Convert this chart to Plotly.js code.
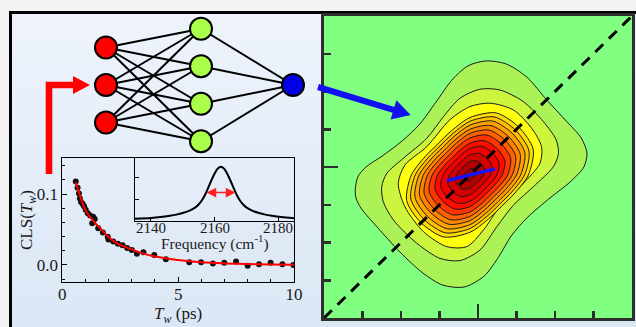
<!DOCTYPE html>
<html><head><meta charset="utf-8">
<script src="https://cdn.plot.ly/plotly-3.0.1.min.js"></script>
<style>
html,body{margin:0;padding:0;background:#f3f3f3;overflow:hidden;width:636px;height:327px;}
#frame{position:absolute;left:9px;top:11px;width:700px;height:313px;border-left:3px solid #000;border-top:3px solid #000;background:linear-gradient(180deg,#eef3fb 0%,#dbe7f5 100%);}
#chart{position:absolute;left:0;top:0;width:636px;height:327px;}
</style></head><body>
<div id="frame"></div><div id="chart"></div>
<script>
// ---------- data ----------
const clsT = [0.58,0.66,0.72,0.76,0.81,0.88,0.94,1.01,1.10,1.20,1.29,1.33,1.40,1.55,1.75,1.96,1.99,2.20,2.40,2.60,2.80,3.00,3.22,3.50,3.97,4.47,5.48,5.99,6.50,6.99,7.50,8.00,8.49,8.99,9.50,9.97];
const clsV = [0.118,0.109,0.101,0.094,0.089,0.086,0.083,0.078,0.073,0.070,0.059,0.068,0.065,0.052,0.046,0.040,0.036,0.033,0.030,0.028,0.024,0.021,0.016,0.018,0.014,0.008,0.004,0.004,0.002,0.003,0.005,-0.001,0.001,0.003,0.001,0.000];
const fitT = [0.58,0.7,0.8,0.9,1.0,1.1,1.25,1.4,1.6,1.8,2.0,2.3,2.6,3.0,3.5,4.0,4.5,5.0,6.0,7.0,8.0,9.0,10.0];
const fitV = [0.117,0.105,0.094,0.085,0.078,0.072,0.066,0.060,0.053,0.046,0.039,0.032,0.027,0.022,0.016,0.012,0.0094,0.007,0.0038,0.0022,0.0013,0.0008,0.0005];
const freq = [2135,2140,2143,2146,2148,2150,2152,2154,2155,2156,2157,2158,2159,2160,2161,2162,2163,2164,2165,2166,2167,2168,2169,2170,2172,2174,2176,2178,2181,2185];
const absV = [0.10,0.14,0.18,0.24,0.29,0.36,0.46,0.62,0.75,0.93,1.18,1.50,1.84,2.15,2.38,2.47,2.38,2.15,1.84,1.50,1.18,0.93,0.75,0.62,0.46,0.36,0.29,0.24,0.18,0.13];
const fwhmX = [2157.0, 2166.6];
const fwhmY = [1.29, 1.29];
const freqTicks = [2140, 2160, 2180];

// 2D spectrum: outer contours traced, inner contours given by radius + shape
const c1x=[0.81,0.88,1.09,1.51,2.03,2.49,2.91,3.32,3.74,4.21,4.73,5.27,5.79,6.29,6.68,6.83,6.75,6.39,5.87,5.27,4.86,4.55,4.16,3.64,3.09,2.57,1.97,1.38,0.96,0.83];
const c1y=[3.39,3.74,4.00,4.29,4.69,5.14,5.72,6.30,6.68,6.81,6.73,6.38,5.77,5.22,4.77,4.37,4.00,3.60,3.18,2.65,2.17,1.64,1.11,0.82,0.87,1.19,1.75,2.41,2.91,3.18];
const c2x=[1.50,1.63,2.06,2.67,3.10,3.53,4.05,4.57,5.18,5.70,6.03,6.09,5.96,5.44,4.92,4.49,4.05,3.53,3.01,2.41,1.80,1.54];
const c2y=[3.48,3.83,4.23,4.76,5.33,5.82,6.06,6.04,5.73,5.20,4.72,4.36,4.01,3.48,2.99,2.42,1.80,1.52,1.58,1.98,2.60,3.08];
const c3x=[1.93,2.10,2.67,3.27,3.79,4.31,4.92,5.39,5.65,5.61,5.18,4.57,4.14,3.71,3.19,2.58,2.10];
const c3y=[3.57,4.05,4.54,5.25,5.60,5.69,5.51,5.03,4.54,4.10,3.57,2.95,2.33,1.89,1.89,2.29,2.95];
const peakCenter = [3.79, 3.79];
const innerRadii = [1.52,1.42,1.32,1.21,1.10,0.98,0.84,0.70,0.53,0.35,0.15];
// radial shape of the inner contours, every 22.5 deg starting at +x, counter-clockwise
const innerShape = [1.0,1.17,1.18,1.17,1.0,0.83,0.77,0.83,1.0,1.17,1.18,1.17,1.0,0.83,0.77,0.83];
const levelColors = ['#abf257','#cdf53e','#ffff10','#ffdc00','#ffc000','#ffa000','#ff8400','#ff6000','#ff3400','#ff0c00','#f00000','#d20000','#b40000','#9a0000'];
const diagX = [0, 8], diagY = [0, 8];
const cslX = [3.19, 4.44], cslY = [3.64, 3.95];
const layerSizes = [3, 4, 1];
const layerColors = ['#ff0000', '#aaff48', '#0000e6'];

// ---------- geometry ----------
const W = 636, H = 327;
const hx = (a, b) => [a / W, b / W];
const vy = (top, bot) => [1 - bot / H, 1 - top / H];
const FONT = '"Liberation Serif", "Times New Roman", serif';
const nnX = [106, 201, 293], nnCY = 85, nnGap = 37.5;

const traces = [];
traces.push({x: clsT, y: clsV, xaxis: 'x', yaxis: 'y', mode: 'markers', type: 'scatter',
  marker: {color: '#111', size: 6}});
traces.push({x: fitT, y: fitV, xaxis: 'x', yaxis: 'y', mode: 'lines', type: 'scatter',
  line: {color: '#ff0000', width: 2, shape: 'spline', smoothing: 0.8}});
traces.push({x: freq, y: absV, xaxis: 'x2', yaxis: 'y2', mode: 'lines', type: 'scatter',
  line: {color: '#000', width: 2, shape: 'spline', smoothing: 0.8}});

// contours (start each closed path mid-edge to avoid a kink at the join)
function closed(xs, ys, s) {
  const X = xs.slice(s).concat(xs.slice(0, s)), Y = ys.slice(s).concat(ys.slice(0, s));
  return {x: X.concat([X[0]]), y: Y.concat([Y[0]])};
}
const polys = [closed(c1x, c1y, 4), closed(c2x, c2y, 3), closed(c3x, c3y, 2)];
innerRadii.forEach(r => {
  const xs = [], ys = [];
  innerShape.forEach((k, i) => {
    const a = i * Math.PI / 8;
    xs.push(peakCenter[0] + Math.cos(a) * r * k); ys.push(peakCenter[1] + Math.sin(a) * r * k);
  });
  polys.push(closed(xs, ys, 6));
});
polys.forEach((p, i) => {
  traces.push({x: p.x, y: p.y, xaxis: 'x3', yaxis: 'y3', type: 'scatter', mode: 'lines', fill: 'toself',
    fillcolor: levelColors[i], line: {color: '#1a1a1a', width: 1, shape: 'spline', smoothing: 0.8}});
});
traces.push({x: diagX, y: diagY, xaxis: 'x3', yaxis: 'y3', type: 'scatter', mode: 'lines',
  line: {color: '#000', width: 3, dash: '11px,8px'}});
traces.push({x: cslX, y: cslY, xaxis: 'x3', yaxis: 'y3', type: 'scatter', mode: 'lines',
  line: {color: '#1414ff', width: 3.5}});

// network
const nodes = layerSizes.map((n, li) => Array.from({length: n}, (_, k) => [nnX[li], nnCY + (k - (n - 1) / 2) * nnGap]));
const ex = [], ey = [];
for (let li = 0; li < nodes.length - 1; li++)
  nodes[li].forEach(a => nodes[li + 1].forEach(b => { ex.push(a[0], b[0], null); ey.push(a[1], b[1], null); }));
traces.push({x: ex, y: ey, xaxis: 'x4', yaxis: 'y4', type: 'scatter', mode: 'lines', line: {color: '#000', width: 2}});
const nx = [], ny = [], nc = [];
nodes.forEach((layer, li) => layer.forEach(p => { nx.push(p[0]); ny.push(p[1]); nc.push(layerColors[li]); }));
traces.push({x: nx, y: ny, xaxis: 'x4', yaxis: 'y4', type: 'scatter', mode: 'markers',
  marker: {size: 22, color: nc, line: {color: '#000', width: 2}}});

const tf = (s) => ({family: FONT, size: s, color: '#1a1a1a'});
const annotations = [
  {xref: 'x2', yref: 'y2', axref: 'x2', ayref: 'y2', x: fwhmX[1], y: fwhmY[1], ax: fwhmX[0], ay: fwhmY[0], text: '',
    showarrow: true, arrowhead: 2, arrowside: 'end+start', arrowsize: 1.3, arrowwidth: 1.5, arrowcolor: '#ff2020',
    standoff: 0, startstandoff: 0},
  {xref: 'paper', yref: 'paper', x: 214.5 / W, y: 1 - 242.5 / H, xanchor: 'center', yanchor: 'middle', showarrow: false,
    text: 'Frequency (cm<sup>-1</sup>)', font: tf(15.5)},
  {xref: 'paper', yref: 'paper', x: 28 / W, y: 1 - 220 / H, xanchor: 'center', yanchor: 'middle', showarrow: false,
    textangle: -90, text: 'CLS(<i>T</i><sub><i>w</i></sub>)', font: tf(17)}
];
freqTicks.forEach(f => annotations.push({xref: 'x2', yref: 'paper', x: f, y: 1 - 227.5 / H, xanchor: 'center',
  yanchor: 'middle', showarrow: false, text: String(f), font: tf(15)}));

const layout = {
  width: W, height: H, margin: {l: 0, r: 0, t: 0, b: 0}, showlegend: false,
  paper_bgcolor: 'rgba(0,0,0,0)', plot_bgcolor: 'rgba(0,0,0,0)', font: {family: FONT},
  xaxis: {domain: hx(62.3, 294), anchor: 'y', range: [0, 10], dtick: 5, tick0: 0, showline: true, mirror: true,
    linecolor: '#000', linewidth: 1, ticks: 'inside', ticklen: 5, tickcolor: '#000', showgrid: false, zeroline: false,
    minor: {dtick: 1, ticks: 'inside', ticklen: 3, tickcolor: '#000'}, tickfont: tf(17), ticklabelstandoff: -3,
    title: {text: '<i>T</i><sub><i>w</i></sub> (ps)', font: tf(17), standoff: 2}},
  yaxis: {domain: vy(158, 282), anchor: 'x', range: [-0.024, 0.151], dtick: 0.1, tick0: 0, tickformat: '.1f',
    showline: true, mirror: true, linecolor: '#000', linewidth: 1, ticks: 'inside', ticklen: 5, tickcolor: '#000',
    showgrid: false, zeroline: false, minor: {dtick: 0.02, ticks: 'inside', ticklen: 3, tickcolor: '#000'},
    tickfont: tf(17)},
  xaxis2: {domain: hx(135, 294), anchor: 'y2', range: [2135, 2185], tickvals: freqTicks, showticklabels: false,
    showline: true, mirror: true, linecolor: '#000', linewidth: 1, ticks: 'inside', ticklen: 4, tickcolor: '#000',
    showgrid: false, zeroline: false},
  yaxis2: {domain: vy(158, 221), anchor: 'x2', range: [0, 2.864], dtick: 1, showticklabels: false, showline: true, mirror: true,
    linecolor: '#000', linewidth: 1, ticks: 'inside', ticklen: 4, tickcolor: '#000', showgrid: false, zeroline: false},
  xaxis3: {domain: hx(324, 632), anchor: 'y3', range: [0, 8], dtick: 4, tick0: 0, showticklabels: false, showline: true,
    mirror: true, linecolor: '#2e2e2e', linewidth: 3, ticks: 'inside', ticklen: 14, tickwidth: 2.5, tickcolor: '#2e2e2e',
    minor: {dtick: 1, ticks: 'inside', ticklen: 7, tickwidth: 2.5, tickcolor: '#2e2e2e'}, showgrid: false, zeroline: false},
  yaxis3: {domain: vy(16, 318), anchor: 'x3', range: [0, 8], dtick: 4, tick0: 0, showticklabels: false, showline: true,
    mirror: true, linecolor: '#2e2e2e', linewidth: 3, ticks: 'inside', ticklen: 14, tickwidth: 2.5, tickcolor: '#2e2e2e',
    minor: {dtick: 1, ticks: 'inside', ticklen: 7, tickwidth: 2.5, tickcolor: '#2e2e2e'}, showgrid: false, zeroline: false},
  xaxis4: {domain: [0, 1], anchor: 'y4', range: [0, W], visible: false, fixedrange: true},
  yaxis4: {domain: [0, 1], anchor: 'x4', range: [H, 0], visible: false, fixedrange: true},
  shapes: [
    {type: 'rect', xref: 'x3', yref: 'y3', x0: 0, x1: 8, y0: 0, y1: 8, fillcolor: '#80ff80', line: {width: 0}, layer: 'below'},
    {type: 'path', xref: 'x4', yref: 'y4', layer: 'above', fillcolor: '#ff0000', line: {width: 0},
      path: 'M45.7,174 L45.7,81.7 L73,81.7 L73,76 L90,85 L73,94 L73,88.3 L52.3,88.3 L52.3,174 Z'},
    {type: 'path', xref: 'x4', yref: 'y4', layer: 'above', fillcolor: '#1010f0', line: {width: 0},
      path: 'M318.9,84.1 L394.4,106.9 L396.4,100.2 L410.7,115 L390.6,119.4 L392.6,112.7 L317.1,89.9 Z'}
  ],
  annotations: annotations
};
Plotly.newPlot('chart', traces, layout, {displayModeBar: false, staticPlot: true});
</script></body></html>
